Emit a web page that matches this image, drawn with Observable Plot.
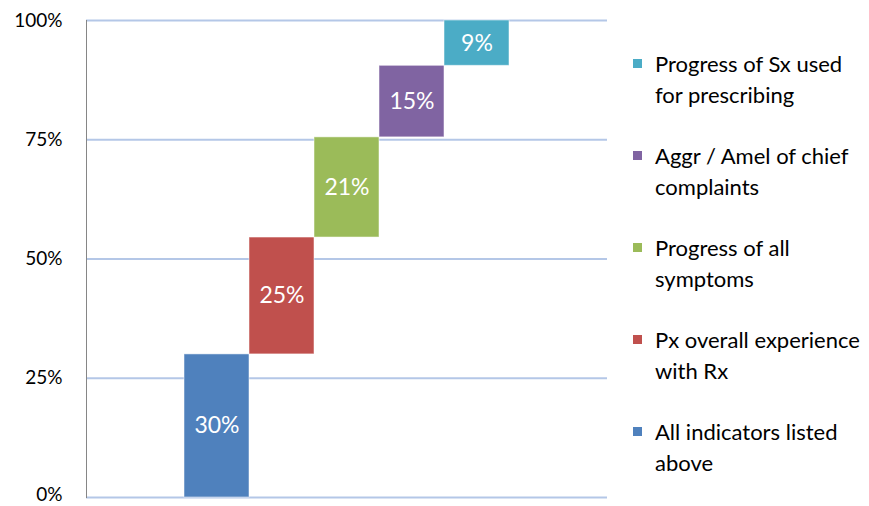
<!DOCTYPE html>
<html>
<head>
<meta charset="utf-8">
<script src="https://cdn.jsdelivr.net/npm/d3@7"></script>
<script src="https://cdn.jsdelivr.net/npm/@observablehq/plot@0.6"></script>
<style>
  html, body { margin: 0; padding: 0; background: #fff; }
  #wrap { position: relative; width: 869px; height: 506px; font-family: Lato, "Open Sans", sans-serif; }
  #legend { position: absolute; left: 633px; top: 48px; }
  .item { position: relative; padding-left: 22px; font-size: 22px; line-height: 31px; color: #000; margin-bottom: 30px; white-space: nowrap; }
  .sw { position: absolute; left: 0; top: 11px; width: 9px; height: 9px; }
</style>
</head>
<body>
<div id="wrap"><div id="chart"></div><div id="legend"></div></div>
<script>
const names = [
  "All indicators listed above",
  "Px overall experience with Rx",
  "Progress of all symptoms",
  "Aggr / Amel of chief complaints",
  "Progress of Sx used for prescribing"
];
const values = [30, 24.5, 21, 15, 9.5];
const labels = ["30%", "25%", "21%", "15%", "9%"];
const colors = ["#4f81bd", "#c0504d", "#9bbb59", "#8064a2", "#4bacc6"];
const legendLines = [
  ["All indicators listed", "above"],
  ["Px overall experience", "with Rx"],
  ["Progress of all", "symptoms"],
  ["Aggr / Amel of chief", "complaints"],
  ["Progress of Sx used", "for prescribing"]
];
const yTicks = [0, 25, 50, 75, 100];

let acc = 0;
const data = names.map((name, i) => {
  const start = acc; acc += values[i];
  return {name, start, end: acc, label: labels[i]};
});

const chart = Plot.plot({
  width: 869,
  height: 506,
  marginLeft: 86,
  marginRight: 262,
  marginTop: 20,
  marginBottom: 9,
  style: {fontFamily: "Lato, 'Open Sans', sans-serif", fontSize: "19px", color: "#000", background: "#fff"},
  x: {domain: names, paddingInner: 0, paddingOuter: 1.5, axis: null},
  y: {domain: [0, 100]},
  color: {domain: names, range: colors},
  marks: [
    Plot.ruleY(yTicks, {stroke: "#b4c7e7", strokeWidth: 2}),
    Plot.frame({anchor: "left", stroke: "#868686"}),
    Plot.axisY({ticks: yTicks.filter(d => d > 0), tickSize: 0, tickPadding: 24, tickFormat: d => d + "%", fontSize: 19, fill: "#000"}),
    Plot.axisY({ticks: yTicks.filter(d => d === 0), tickSize: 0, tickPadding: 24, tickFormat: d => d + "%", fontSize: 19, fill: "#000", dy: -3}),
    Plot.barY(data, {x: "name", y1: "start", y2: "end", fill: "name", stroke: "#ffffff", strokeOpacity: 0.5, strokeWidth: 1, inset: 0}),
    Plot.text(data, {x: "name", y: d => (d.start + d.end) / 2, text: "label", fill: "white", fontSize: 23})
  ]
});
document.getElementById("chart").appendChild(chart);

const legend = document.getElementById("legend");
for (let i = names.length - 1; i >= 0; i--) {
  const item = document.createElement("div");
  item.className = "item";
  const sw = document.createElement("div");
  sw.className = "sw";
  sw.style.background = colors[i];
  item.appendChild(sw);
  legendLines[i].forEach((t, j) => {
    if (j) item.appendChild(document.createElement("br"));
    item.appendChild(document.createTextNode(t));
  });
  legend.appendChild(item);
}
</script>
</body>
</html>
